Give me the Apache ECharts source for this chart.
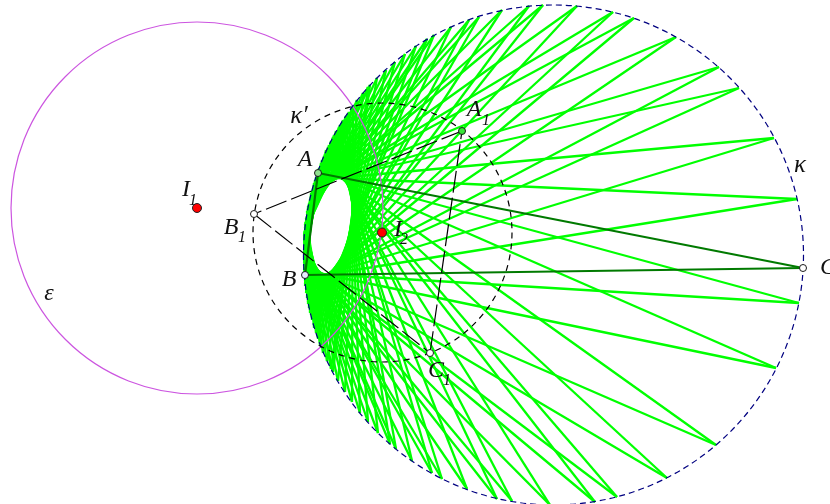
<!DOCTYPE html><html><head><meta charset="utf-8"><script src="https://cdn.jsdelivr.net/npm/echarts@6/dist/echarts.min.js"></script>
<style>html,body{margin:0;background:#fff}#c{width:830px;height:504px}</style></head><body><div id="c"></div>
<script>
// Envelope triangles: each row is x,y of three vertices on circle kappa
const envelopeTriangles=[
[368,87,304,235,333,372],[377,78,305,231,327,361],[386,70,305,227,323,353],[395,62,305,224,320,345],
[405,54,306,221,318,339],[416,46,306,218,316,333],[427,39,307,216,314,328],[434,35,307,214,314,325],
[451,27,307,211,312,320],[469,20,308,208,311,315],[479,17,308,206,310,313],[502,10,309,203,309,308],
[529,6,310,200,308,304],[543,5,310,199,308,302],[577,6,311,196,307,298],[613,12,311,193,307,294],
[634,18,312,191,306,293],[676,37,313,188,306,289],[719,67,314,185,305,286],[739,88,314,183,305,284],
[774,138,315,180,305,281],[797,199,316,177,305,278],[799,303,318,172,304,273],
[776,368,319,168,304,270],[716,445,321,163,304,266],[667,478,322,160,304,263],[617,497,324,156,304,261],
[595,502,325,154,304,259],[550,505,326,150,304,257],[512,501,328,147,304,254],[497,499,329,145,304,253],
[467,489,331,141,304,250],[442,479,333,137,304,248],[432,473,334,135,304,246],[412,461,336,131,304,244],
[396,449,339,127,304,241],[390,444,340,125,304,240],[378,433,343,120,304,238],[368,422,346,116,304,235],
[360,413,349,112,304,233],[352,402,353,106,305,230],[345,392,357,100,305,227],[338,381,363,93,305,224],
[331,369,370,85,306,220]];
const triangleABC=[[318,173],[305,275],[803,268]];
const triangleA1B1C1=[[462,131],[254,214],[430,353]];
const circleKappa=[553.5,255,250];
const circleKappaPrime=[382.5,232.5,129.5];
const circleEpsilon=[197,208,186];
const openPoints=[[318,173,'#8fe08f'],[305,275,'#e8ecff'],[803,268,'#ffffff'],[462,131,'#39e639'],[254,214,'#ffffff'],[430,353,'#ffffff']];
const redPoints=[[197,208],[382,232.5]];
const labels=[
['A',305,160,24],['A',474,110,24],['1',486,121,16],['B',231,228,24],['1',242,238,16],['B',289,280,24],
['C',828,268,24],['C',436,371,24],['1',447,381,16],['I',186,190,24],['1',193,201,16],['I',398,230,24],['2',404,240,16],
['κ',800,165,25],['κ′',299,116,25],['ε',49,294,24]];

const seg=(t)=>[[[t[0],t[1]],[t[2],t[3]]],[[t[0],t[1]],[t[4],t[5]]],[[t[2],t[3]],[t[4],t[5]]]];
const greenSegs=envelopeTriangles.flatMap(seg).map(c=>({coords:c}));
const closed=p=>p.map((q,i)=>({coords:[q,p[(i+1)%p.length]]}));
function circleSeries(c,color,width,dash,z){return {type:'custom',coordinateSystem:'cartesian2d',clip:true,z,silent:true,data:[c],
 renderItem:(params,api)=>{const p=api.coord([api.value(0),api.value(1)]);const r=api.size([api.value(2),0])[0];
  return {type:'circle',shape:{cx:p[0],cy:p[1],r},style:{fill:'none',stroke:color,lineWidth:width,lineDash:dash||null}};}};}
const chart=echarts.init(document.getElementById('c'),null,{renderer:'canvas'});
chart.setOption({animation:false,backgroundColor:'#fff',
 grid:{left:0,right:0,top:0,bottom:0},
 xAxis:{type:'value',min:0,max:830,show:false},
 yAxis:{type:'value',min:0,max:504,inverse:true,show:false},
 series:[
  {type:'lines',coordinateSystem:'cartesian2d',z:1,silent:true,data:greenSegs,lineStyle:{color:'#00ff00',width:2.3,opacity:1}},
  circleSeries(circleEpsilon,'#cc55e0',1.2,null,2),
  circleSeries(circleKappa,'#000080',1.2,[6,4],3),
  circleSeries(circleKappaPrime,'#000000',1.2,[6,5],4),
  {type:'lines',coordinateSystem:'cartesian2d',z:5,silent:true,data:closed(triangleABC),lineStyle:{color:'#007a00',width:2.2,opacity:1}},
  {type:'custom',coordinateSystem:'cartesian2d',z:6,silent:true,clip:true,data:triangleA1B1C1.map((q,i)=>[q[0],q[1],triangleA1B1C1[(i+1)%3][0],triangleA1B1C1[(i+1)%3][1]]),
   renderItem:(params,api)=>{const a=api.coord([api.value(0),api.value(1)]),b=api.coord([api.value(2),api.value(3)]);
    return {type:'line',shape:{x1:a[0],y1:a[1],x2:b[0],y2:b[1]},style:{stroke:'#000',lineWidth:1.2,lineDash:[22,5]}};}},
  {type:'scatter',z:7,silent:true,symbolSize:7,data:openPoints.map(p=>({value:[p[0],p[1]],itemStyle:{color:p[2]}})),itemStyle:{borderColor:'#1a1a1a',borderWidth:1,opacity:1}},
  {type:'scatter',z:7,silent:true,symbolSize:9,data:redPoints,itemStyle:{color:'#ff0000',borderColor:'#222',borderWidth:1,opacity:1}},
  {type:'custom',coordinateSystem:'cartesian2d',z:8,silent:true,clip:false,data:labels.map(l=>[l[1],l[2],l[3],l[0]]),
   encode:{x:0,y:1},
   renderItem:(params,api)=>{const l=labels[params.dataIndex];const p=api.coord([l[1],l[2]]);
    return {type:'text',x:p[0],y:p[1],style:{text:l[0],font:'italic '+l[3]+'px "Liberation Serif"',fill:'#111',align:'center',verticalAlign:'middle'}};}}
 ]});
</script></body></html>
